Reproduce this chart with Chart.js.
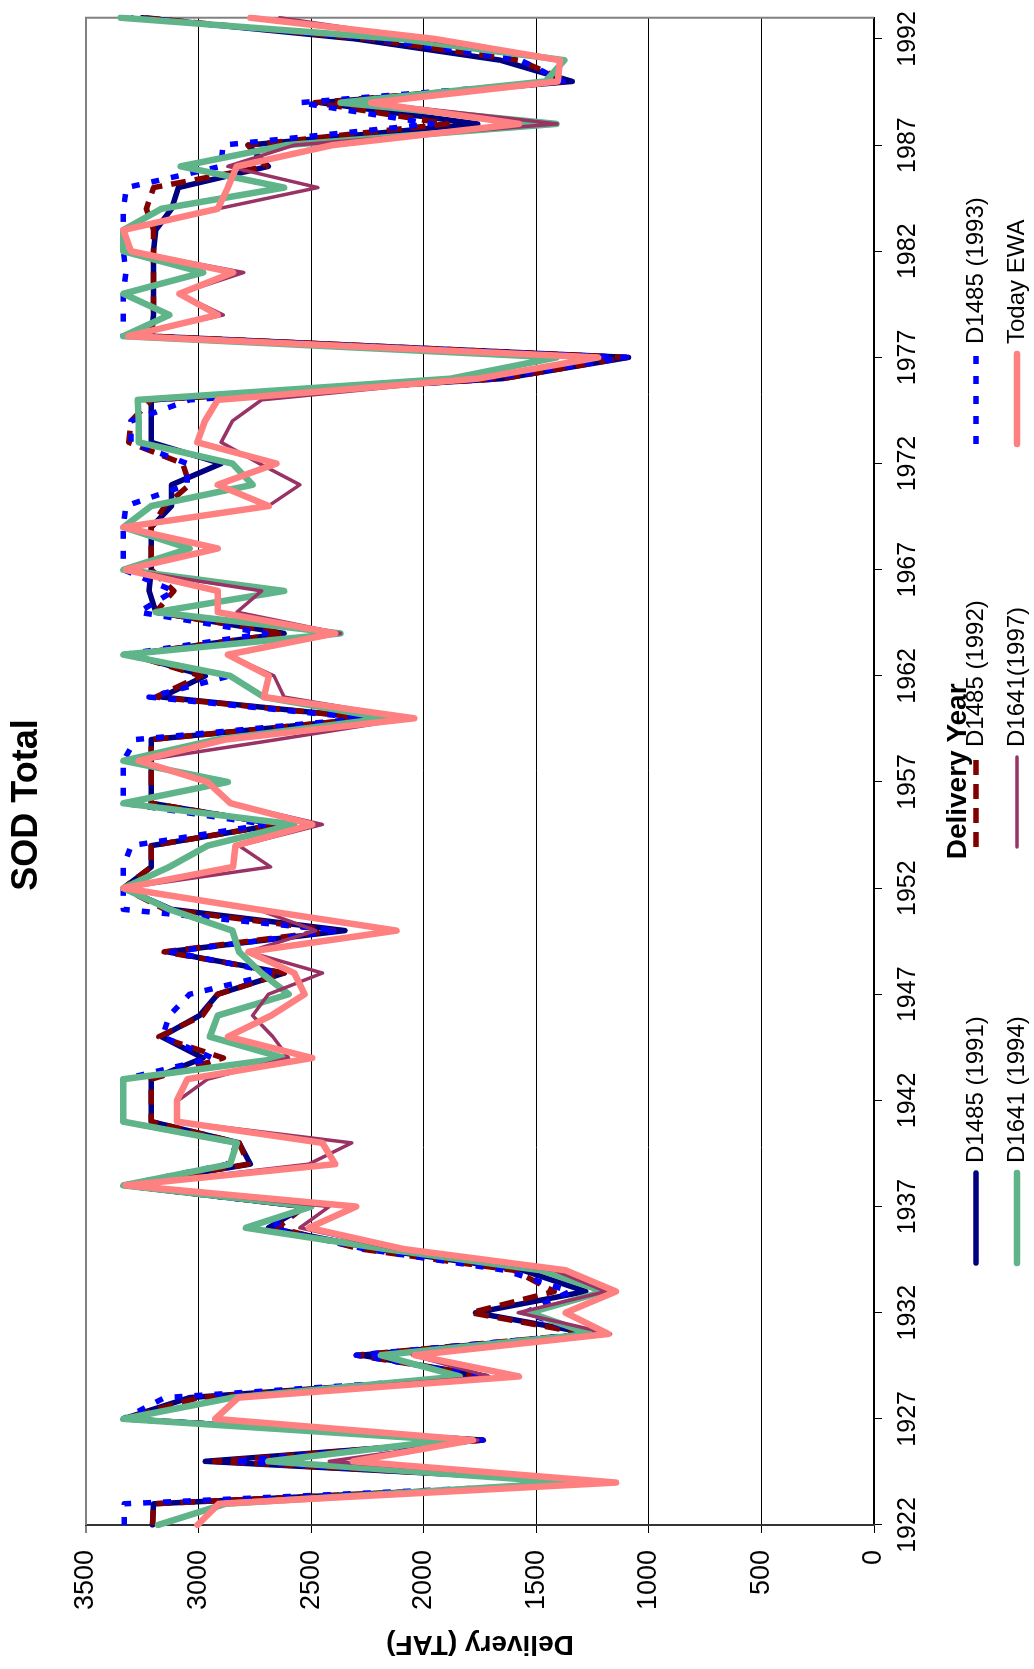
<!DOCTYPE html>
<html>
<head>
<meta charset="utf-8">
<script src="https://cdn.jsdelivr.net/npm/chart.js@4.4.0/dist/chart.umd.min.js"></script>
<style>
  html, body { margin: 0; padding: 0; background: #fff; overflow: hidden; }
  #moldura { position: relative; width: 1034px; height: 1669px; }
  /* o grafico original esta deitado: desenha em paisagem e gira 90 graus */
  #grafico { position: absolute; left: 0; top: 0; transform-origin: 0 0; transform: translate(0, 1669px) rotate(-90deg); }
</style>
</head>
<body>
<div id="moldura"><canvas id="grafico" width="1669" height="1034"></canvas></div>
<script>
const anos = [
  '1922','1923','1924','1925','1926','1927','1928','1929','1930','1931',
  '1932','1933','1934','1935','1936','1937','1938','1939','1940','1941',
  '1942','1943','1944','1945','1946','1947','1948','1949','1950','1951',
  '1952','1953','1954','1955','1956','1957','1958','1959','1960','1961',
  '1962','1963','1964','1965','1966','1967','1968','1969','1970','1971',
  '1972','1973','1974','1975','1976','1977','1978','1979','1980','1981',
  '1982','1983','1984','1985','1986','1987','1988','1989','1990','1991',
  '1992','1993'
];
const rotulosAnos = ['1922','1927','1932','1937','1942','1947','1952','1957','1962','1967','1972','1977','1982','1987','1992'];
const ticksEntrega = [0, 500, 1000, 1500, 2000, 2500, 3000, 3500];

const d1485_1991 = [
  3205, 3200, 1180, 2970, 1735, 3334, 3040, 1720, 2280, 1250,
  1770, 1280, 1560, 2210, 2690, 2530, 3334, 2770, 2820, 3210,
  3210, 3210, 2980, 3165, 2995, 2915, 2620, 3140, 2350, 3120,
  3334, 3210, 3210, 2650, 3210, 3210, 3210, 3210, 2230, 3165,
  2970, 3300, 2620, 3190, 3220, 3210, 3210, 3210, 3120, 3120,
  2900, 3210, 3210, 3210, 1650, 1090, 3210, 3200, 3200, 3200,
  3200, 3190, 3120, 3090, 2690, 2780, 1760, 2460, 1340, 1660,
  2300, 3250
];
const d1485_1992 = [
  3205, 3200, 1180, 2930, 1740, 3334, 3000, 1720, 2300, 1280,
  1790, 1420, 1600, 2280, 2650, 2530, 3334, 2780, 2820, 3210,
  3210, 3210, 2890, 3176, 2983, 2915, 2620, 3153, 2400, 3150,
  3334, 3210, 3210, 2650, 3210, 3210, 3210, 3210, 2230, 3190,
  2990, 3300, 2620, 3190, 3110, 3210, 3210, 3210, 3150, 3040,
  3070, 3310, 3300, 3210, 1650, 1100, 3210, 3200, 3200, 3200,
  3200, 3200, 3232, 3200, 2700, 2780, 1894, 2484, 1360, 1577,
  2250, 3240
];
const d1485_1993 = [
  3330, 3330, 1200, 2850, 1740, 3334, 3150, 1720, 2300, 1280,
  1550, 1350, 1640, 2260, 2680, 2530, 3334, 2870, 2830, 3334,
  3334, 3334, 2937, 3160, 3130, 3040, 2650, 3120, 2380, 3334,
  3334, 3334, 3300, 2700, 3334, 3334, 3334, 3280, 2260, 3220,
  2860, 3334, 2700, 3266, 3110, 3334, 3334, 3334, 3323, 3050,
  3050, 3300, 3300, 3040, 1700, 1100, 3334, 3334, 3334, 3323,
  3334, 3334, 3334, 3320, 2900, 2892, 1962, 2552, 1380, 1570,
  2200, 3300
];
const d1641_1994 = [
  3180, 2880, 1350, 2690, 1890, 3334, 2850, 1840, 2190, 1260,
  1530, 1200, 1480, 2170, 2790, 2500, 3334, 2860, 2830, 3334,
  3334, 3334, 2620, 2950, 2915, 2600, 2720, 2820, 2850, 3130,
  3334, 3130, 2960, 2575, 3334, 2870, 3334, 2920, 2170, 2710,
  2860, 3334, 2370, 3190, 2620, 3334, 3040, 3334, 3210, 2760,
  2850, 3266, 3266, 3270, 1880, 1410, 3334, 3130, 3334, 2980,
  3334, 3334, 3165, 2620, 3080, 2610, 1410, 2370, 1460, 1375,
  2100, 3346
];
const d1641_1997 = [
  3005, 2900, 1150, 2420, 1760, 2930, 2830, 1710, 2050, 1170,
  1580, 1190, 1420, 2120, 2550, 2420, 3320, 2510, 2320, 3090,
  3090, 2960, 2600, 2670, 2760, 2690, 2450, 2780, 2480, 2740,
  3334, 2680, 2820, 2450, 2860, 2960, 3260, 2650, 2060, 2620,
  2665, 2870, 2370, 2830, 2720, 3323, 2915, 3334, 2690, 2550,
  2730, 2900, 2850, 2720, 1760, 1240, 3312, 2890, 3085, 2800,
  3300, 3334, 2915, 2470, 2870, 2575, 1407, 2234, 1405, 1395,
  2000, 2640
];
const todayEwa = [
  3005, 2910, 1146, 2314, 1781, 2926, 2824, 1577, 2040, 1180,
  1370, 1146, 1370, 2090, 2510, 2300, 3323, 2393, 2450, 3096,
  3096, 3050, 2495, 2870, 2677, 2529, 2575, 2779, 2121, 2740,
  3334, 2847, 2836, 2495, 2858, 2960, 3266, 2880, 2042, 2710,
  2688, 2870, 2393, 2915, 2915, 3323, 2915, 3334, 2688, 2915,
  2654, 3006, 2972, 2915, 1760, 1225, 3312, 2915, 3085, 2847,
  3300, 3334, 2915, 2870, 2830, 2405, 1577, 2234, 1405, 1395,
  1950, 2770
];

const FONTE = '"Liberation Sans", Arial, sans-serif';
Chart.defaults.font.family = FONTE;
Chart.defaults.color = '#000';

// titulo e legenda desenhados a mao para ficarem onde o Excel os colocou
const tituloELegenda = {
  id: 'tituloELegenda',
  afterDraw(chart) {
    const ctx = chart.ctx;
    ctx.save();
    ctx.fillStyle = '#000';
    ctx.textBaseline = 'middle';
    ctx.textAlign = 'center';
    ctx.font = 'bold 36px ' + FONTE;
    ctx.fillText('SOD Total', 864, 27);

    const colunas = [406, 822, 1225];
    const linhas = [976, 1017];
    ctx.textAlign = 'left';
    ctx.font = '24px ' + FONTE;
    chart.data.datasets.forEach((ds, i) => {
      const x = colunas[i % 3];
      const y = linhas[Math.floor(i / 3)];
      ctx.beginPath();
      ctx.strokeStyle = ds.borderColor;
      ctx.lineWidth = ds.borderWidth;
      ctx.lineCap = ds.borderCapStyle;
      ctx.setLineDash(ds.borderDash);
      ctx.moveTo(x, y);
      ctx.lineTo(x + 90, y);
      ctx.stroke();
      ctx.setLineDash([]);
      ctx.fillText(ds.label, x + 100, y);
    });
    ctx.restore();
  }
};

const bordaPlot = {
  id: 'bordaPlot',
  beforeDatasetsDraw(chart) {
    const { ctx, chartArea: a } = chart;
    ctx.save();
    ctx.strokeStyle = '#808080';
    ctx.lineWidth = 2;
    ctx.beginPath();
    ctx.moveTo(a.left, a.top);
    ctx.lineTo(a.right, a.top);
    ctx.lineTo(a.right, a.bottom);
    ctx.stroke();
    ctx.restore();
  }
};

function serie(label, dados, cor, largura, traco, ordem) {
  return {
    label: label,
    data: dados,
    borderColor: cor,
    backgroundColor: cor,
    borderWidth: largura,
    borderDash: traco,
    borderCapStyle: traco.length ? 'butt' : 'round',
    borderJoinStyle: 'round',
    pointRadius: 0,
    pointHoverRadius: 0,
    tension: 0,
    fill: false,
    order: ordem
  };
}

new Chart(document.getElementById('grafico'), {
  type: 'line',
  data: {
    labels: anos,
    datasets: [
      serie('D1485 (1991)', d1485_1991, '#000080', 5.5, [], 5),
      serie('D1485 (1992)', d1485_1992, '#800000', 5.5, [15, 9], 4),
      serie('D1485 (1993)', d1485_1993, '#0000FF', 5.5, [8, 12], 3),
      serie('D1641 (1994)', d1641_1994, '#5FB48A', 6.5, [], 2),
      serie('D1641(1997)', d1641_1997, '#993366', 3.5, [], 1),
      serie('Today EWA', todayEwa, '#FF8080', 6.5, [], 0)
    ]
  },
  options: {
    responsive: false,
    animation: false,
    events: [],
    layout: { padding: { top: 86, left: 8, right: 11, bottom: 0 } },
    plugins: {
      legend: { display: false },
      title: { display: false },
      tooltip: { enabled: false }
    },
    scales: {
      x: {
        type: 'category',
        afterBuildTicks: (escala) => {
          escala.ticks = escala.ticks.filter(t => rotulosAnos.includes(anos[t.value]));
        },
        afterFit: (escala) => { escala.height = 160; },
        ticks: { autoSkip: false, maxRotation: 0, padding: 11, font: { size: 25 }, color: '#000' },
        grid: { drawOnChartArea: false, drawTicks: true, tickLength: 8, color: '#000', lineWidth: 1 },
        border: { color: '#000', width: 2 },
        title: {
          display: true,
          text: 'Delivery Year',
          font: { size: 28, weight: 'bold' },
          color: '#000',
          padding: { top: 0, bottom: 59 }
        }
      },
      y: {
        min: 0,
        max: 3500,
        afterBuildTicks: (escala) => {
          escala.ticks = ticksEntrega.map(v => ({ value: v }));
        },
        afterFit: (escala) => { escala.width = 136; },
        ticks: { padding: 17, font: { size: 27 }, color: '#000', callback: (v) => String(v) },
        grid: {
          color: (c) => (c.tick && c.tick.value === 3500 ? '#808080' : '#000'),
          lineWidth: (c) => (c.tick && c.tick.value === 3500 ? 2 : 1),
          tickLength: 8,
          drawTicks: true
        },
        border: { color: '#333', width: 2 },
        title: {
          display: true,
          text: 'Delivery (TAF)',
          font: { size: 28, weight: 'bold' },
          color: '#000',
          padding: 0
        }
      }
    }
  },
  plugins: [bordaPlot, tituloELegenda]
});
</script>
</body>
</html>
